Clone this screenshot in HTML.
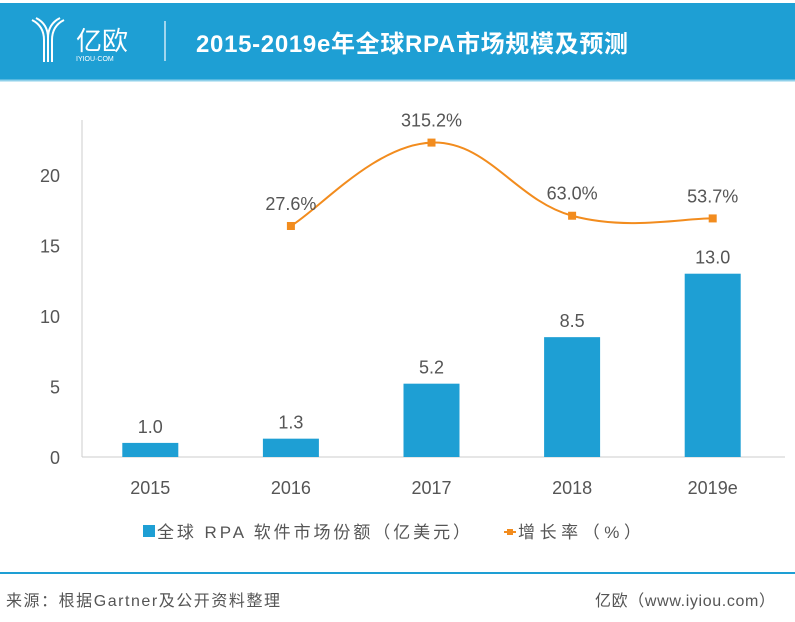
<!DOCTYPE html>
<html><head><meta charset="utf-8"><style>
body{margin:0;width:795px;height:622px;background:#fff;overflow:hidden;font-family:"Liberation Sans","Noto Sans CJK SC",sans-serif}
</style></head><body>
<svg width="795" height="622" style="position:absolute;left:0;top:0">
<rect x="0" y="3" width="795" height="77" fill="#1e9fd4"/>
<line x1="0" y1="80.5" x2="795" y2="80.5" stroke="#8fd0ea" stroke-width="2"/>
<g fill="none" stroke="#fff" stroke-width="2">
<path d="M32 20 Q44 26 44 40 L44 62"/><path d="M36 18 Q48 24 48 38 L48 62"/><path d="M60 18 Q48 24 48 38"/><path d="M64 20 Q52 26 52 40 L52 62"/>
</g>
<text x="76" y="50" fill="#fff" font-size="26">亿欧</text>
<text x="76" y="61" fill="#fff" font-size="7">IYIOU·COM</text>
<line x1="165" y1="21" x2="165" y2="61" stroke="#cde9f6" stroke-width="1.5"/>
<text x="196" y="52" fill="#fff" font-size="24" font-weight="bold" textLength="432">2015-2019e年全球RPA市场规模及预测</text>
<g id="plot"></g>
<g>
<rect x="143" y="525" width="12" height="12" fill="#1e9fd4"/>
<text x="157" y="538" font-size="17" fill="#555" textLength="313">全球 RPA 软件市场份额（亿美元）</text>
<line x1="504" y1="532" x2="516" y2="532" stroke="#f28c1e" stroke-width="2"/>
<rect x="507" y="529" width="6" height="6" fill="#f28c1e"/>
<text x="518" y="538" font-size="17" fill="#555" textLength="123">增长率（%）</text>
</g>
<line x1="0" y1="573" x2="795" y2="573" stroke="#1e9fd4" stroke-width="2"/>
<text x="6" y="606" font-size="16" fill="#555" textLength="274">来源：根据Gartner及公开资料整理</text>
<text x="595" y="606" font-size="16" fill="#555" textLength="180">亿欧（www.iyiou.com）</text>
</svg>
<script>
const categories=["2015","2016","2017","2018","2019e"];
const barValues=[1.0,1.3,5.2,8.5,13.0];
const barLabels=["1.0","1.3","5.2","8.5","13.0"];
const growthValues=[null,27.6,315.2,63.0,53.7];
const growthLabels=["","27.6%","315.2%","63.0%","53.7%"];
const yTicks=[0,5,10,15,20];
const NS="http://www.w3.org/2000/svg";
const g=document.getElementById('plot');
const x0=82,x1=785,yBase=457,pxPerUnit=14.1;
const band=(x1-x0)/categories.length;
const xc=i=>x0+band*(i+0.5)-2;
const y=v=>yBase-v*pxPerUnit;
const y2=v=>234-v*0.29;
function mk(t,a){const e=document.createElementNS(NS,t);for(const k in a)e.setAttribute(k,a[k]);g.appendChild(e);return e;}
let e=mk('line',{x1:x0,y1:120,x2:x0,y2:yBase,stroke:'#ccc'});


e=mk('line',{x1:x0,y1:yBase,x2:x1,y2:yBase,stroke:'#ccc'});


yTicks.forEach(v=>{const t=mk('text',{x:60,y:y(v)+7,'text-anchor':'end','font-size':18,fill:'#555'});t.textContent=v;

});
categories.forEach((c,i)=>{
const r=mk('rect',{x:xc(i)-28,y:y(barValues[i]),width:56,height:yBase-y(barValues[i]),fill:'#1e9fd4'});


const l=mk('text',{x:xc(i),y:y(barValues[i])-10,'text-anchor':'middle','font-size':18,fill:'#555'});l.textContent=barLabels[i];


const t=mk('text',{x:xc(i),y:494,'text-anchor':'middle','font-size':18,fill:'#555'});t.textContent=c;


});
const pts=[];growthValues.forEach((v,i)=>{if(v!==null)pts.push([xc(i),y2(v),i]);});
let d='M'+pts[0][0]+' '+pts[0][1];
for(let k=0;k<pts.length-1;k++){const p0=pts[Math.max(k-1,0)],p1=pts[k],p2=pts[k+1],p3=pts[Math.min(k+2,pts.length-1)];const s=0.2;
d+=` C${p1[0]+(p2[0]-p0[0])*s} ${p1[1]+(p2[1]-p0[1])*s} ${p2[0]-(p3[0]-p1[0])*s} ${p2[1]-(p3[1]-p1[1])*s} ${p2[0]} ${p2[1]}`;}
e=mk('path',{d:d,fill:'none',stroke:'#f28c1e','stroke-width':2});


pts.forEach(p=>{const m=mk('rect',{x:p[0]-4,y:p[1]-4,width:8,height:8,fill:'#f28c1e'});


const l=mk('text',{x:p[0],y:p[1]-16,'text-anchor':'middle','font-size':18,fill:'#555'});l.textContent=growthLabels[p[2]];

});
</script>
</body></html>
